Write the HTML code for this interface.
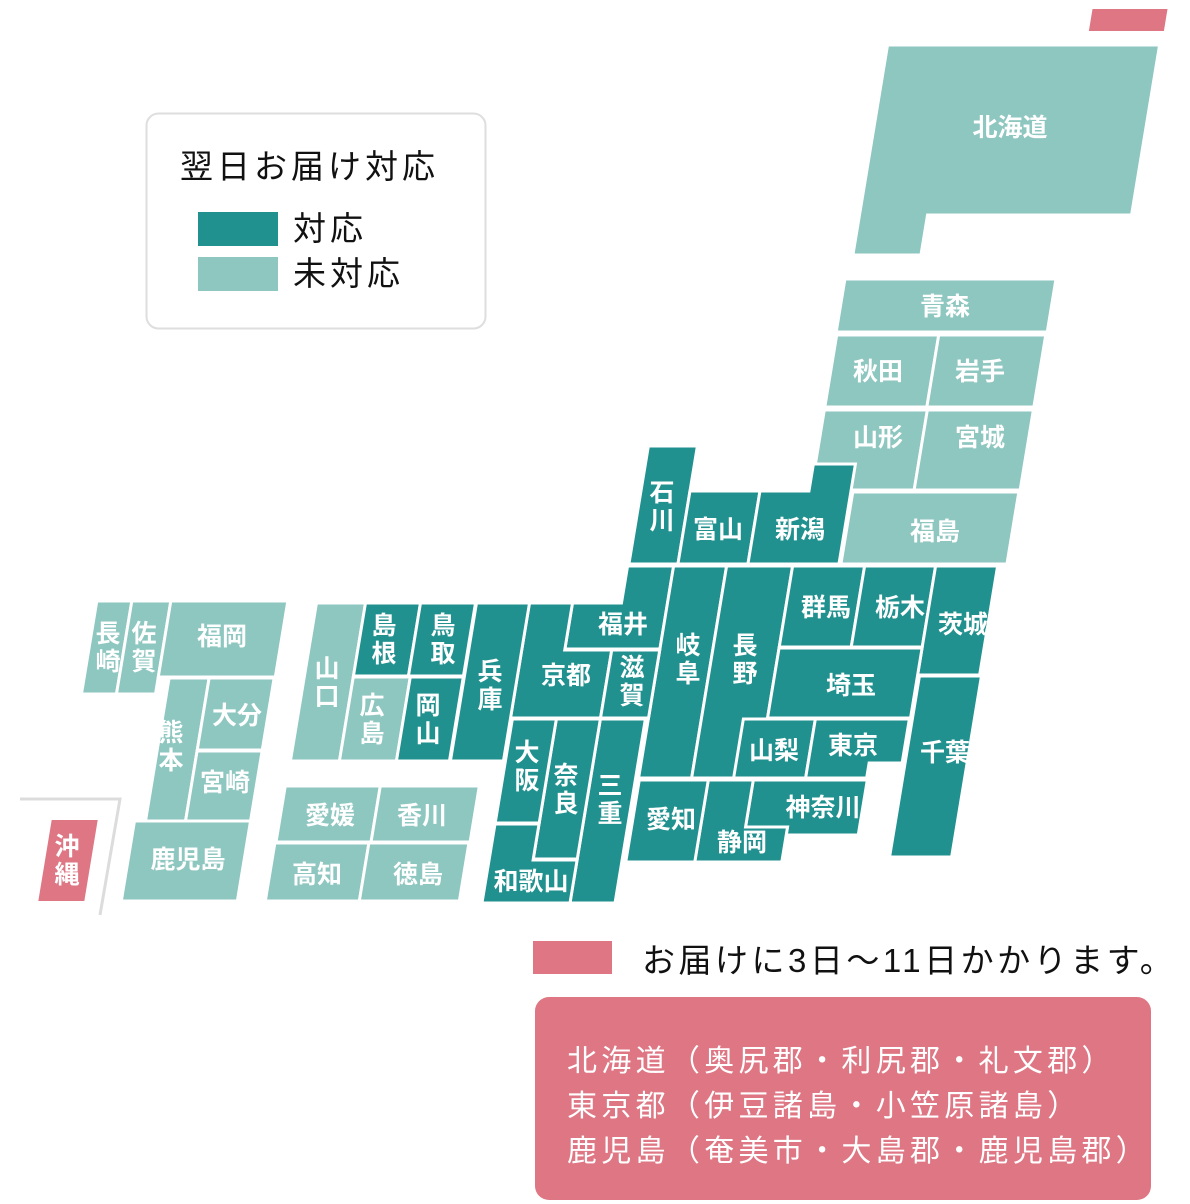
<!DOCTYPE html>
<html><head><meta charset="utf-8"><style>
html,body{margin:0;padding:0;background:#fff;}
svg{display:block;}
.lab{font-family:"Liberation Sans","Noto Sans CJK JP",sans-serif;font-weight:bold;font-size:25px;fill:#fff;text-anchor:middle;dominant-baseline:central;}
.blk{font-family:"Liberation Sans","Noto Sans CJK JP",sans-serif;fill:#111;}
.wh{font-family:"Liberation Sans","Noto Sans CJK JP",sans-serif;fill:#fff;font-size:30px;letter-spacing:4.3px;}
</style></head><body>
<svg width="1190" height="1204" viewBox="0 0 1190 1204" xmlns="http://www.w3.org/2000/svg">
<g transform="skewX(-9.37)" stroke="#fff" stroke-width="3">
<rect x="1094" y="9" width="75" height="22" fill="#de7683" stroke="none"/>
<path d="M895,45 H1167 V215 H963 V255 H895 Z" fill="#8ec6c0"/>
<rect x="891" y="279" width="211" height="53" fill="#8ec6c0"/>
<rect x="892" y="335" width="102" height="72" fill="#8ec6c0"/>
<rect x="994" y="335" width="107" height="72" fill="#8ec6c0"/>
<rect x="892" y="410" width="103" height="80" fill="#8ec6c0"/>
<rect x="995" y="410" width="106" height="80" fill="#8ec6c0"/>
<rect x="934" y="492" width="166" height="72" fill="#8ec6c0"/>
<rect x="722" y="446" width="49" height="118" fill="#21918f"/>
<rect x="771" y="491" width="70" height="73" fill="#21918f"/>
<path d="M841,491 H890 V464 H932 V564 H841 Z" fill="#21918f"/>
<path d="M721,566 H767 V649 H672 V603 H721 Z" fill="#21918f"/>
<rect x="767" y="566" width="53" height="212" fill="#21918f"/>
<rect x="820" y="566" width="66" height="212" fill="#21918f"/>
<rect x="886" y="566" width="72" height="81" fill="#21918f"/>
<rect x="958" y="566" width="71" height="81" fill="#21918f"/>
<rect x="1029" y="566" width="62" height="109" fill="#21918f"/>
<rect x="886" y="648" width="143" height="70" fill="#21918f"/>
<rect x="1031" y="676" width="62" height="181" fill="#21918f"/>
<rect x="862" y="719" width="72" height="59" fill="#21918f"/>
<path d="M934,719 H1028 V763 H995 V778 H934 Z" fill="#21918f"/>
<path d="M882,780 H996 V835 H924 V827 H882 Z" fill="#21918f"/>
<path d="M837,780 H882 V827 H924 V862 H837 Z" fill="#21918f"/>
<rect x="768" y="780" width="69" height="82" fill="#21918f"/>
<path d="M629,603 H672 V650 H719 V718 H629 Z" fill="#21918f"/>
<rect x="719" y="650" width="48" height="68" fill="#21918f"/>
<rect x="576" y="603" width="53" height="158" fill="#21918f"/>
<rect x="719" y="719" width="45" height="184" fill="#21918f"/>
<rect x="675" y="719" width="44" height="140" fill="#21918f"/>
<rect x="631" y="719" width="44" height="104" fill="#21918f"/>
<path d="M631,824 H675 V860 H719 V903 H631 Z" fill="#21918f"/>
<rect x="416" y="603" width="49" height="158" fill="#8ec6c0"/>
<rect x="465" y="603" width="55" height="73" fill="#21918f"/>
<rect x="520" y="603" width="55" height="73" fill="#21918f"/>
<rect x="465" y="677" width="57" height="84" fill="#8ec6c0"/>
<rect x="522" y="677" width="53" height="84" fill="#21918f"/>
<rect x="415" y="786" width="95" height="56" fill="#8ec6c0"/>
<rect x="510" y="786" width="99" height="56" fill="#8ec6c0"/>
<rect x="414" y="843" width="94" height="58" fill="#8ec6c0"/>
<rect x="508" y="843" width="100" height="58" fill="#8ec6c0"/>
<rect x="196" y="601" width="35" height="93" fill="#8ec6c0"/>
<rect x="231" y="601" width="39" height="93" fill="#8ec6c0"/>
<rect x="270" y="601" width="117" height="76" fill="#8ec6c0"/>
<rect x="281" y="678" width="40" height="143" fill="#8ec6c0"/>
<rect x="321" y="678" width="65" height="72" fill="#8ec6c0"/>
<rect x="321" y="751" width="65" height="70" fill="#8ec6c0"/>
<rect x="270" y="821" width="116" height="80" fill="#8ec6c0"/>
<rect x="187" y="820" width="46" height="81" fill="#de7683" stroke="none"/>
</g>
<polyline points="20,799 120,799 100,915" fill="none" stroke="#dcdcdc" stroke-width="3"/>

<text class="lab" x="1010" y="128">北海道</text>
<text class="lab" x="945" y="307">青森</text>
<text class="lab" x="878" y="372">秋田</text>
<text class="lab" x="980" y="372">岩手</text>
<text class="lab" x="878" y="438">山形</text>
<text class="lab" x="980" y="438">宮城</text>
<text class="lab" x="935" y="532">福島</text>
<text class="lab" x="662" y="493">石</text><text class="lab" x="662" y="521">川</text>
<text class="lab" x="718" y="530">富山</text>
<text class="lab" x="800" y="530">新潟</text>
<text class="lab" x="623" y="625">福井</text>
<text class="lab" x="688" y="646">岐</text><text class="lab" x="688" y="674">阜</text>
<text class="lab" x="745" y="646">長</text><text class="lab" x="745" y="674">野</text>
<text class="lab" x="826" y="608">群馬</text>
<text class="lab" x="900" y="608">栃木</text>
<text class="lab" x="963" y="625">茨城</text>
<text class="lab" x="851" y="686">埼玉</text>
<text class="lab" x="945" y="753">千葉</text>
<text class="lab" x="774" y="751">山梨</text>
<text class="lab" x="853" y="746">東京</text>
<text class="lab" x="823" y="808">神奈川</text>
<text class="lab" x="742" y="843">静岡</text>
<text class="lab" x="671" y="820">愛知</text>
<text class="lab" x="566" y="676">京都</text>
<text class="lab" x="632" y="668">滋</text><text class="lab" x="632" y="696">賀</text>
<text class="lab" x="490" y="672">兵</text><text class="lab" x="490" y="700">庫</text>
<text class="lab" x="610" y="786">三</text><text class="lab" x="610" y="814">重</text>
<text class="lab" x="566" y="776">奈</text><text class="lab" x="566" y="804">良</text>
<text class="lab" x="527" y="753">大</text><text class="lab" x="527" y="781">阪</text>
<text class="lab" x="531" y="882">和歌山</text>
<text class="lab" x="384" y="626">島</text><text class="lab" x="384" y="654">根</text>
<text class="lab" x="443" y="626">鳥</text><text class="lab" x="443" y="654">取</text>
<text class="lab" x="327" y="669">山</text><text class="lab" x="327" y="697">口</text>
<text class="lab" x="372" y="706">広</text><text class="lab" x="372" y="734">島</text>
<text class="lab" x="428" y="706">岡</text><text class="lab" x="428" y="734">山</text>
<text class="lab" x="330" y="816">愛媛</text>
<text class="lab" x="422" y="816">香川</text>
<text class="lab" x="317" y="875">高知</text>
<text class="lab" x="418" y="875">徳島</text>
<text class="lab" x="108" y="634">長</text><text class="lab" x="108" y="662">崎</text>
<text class="lab" x="144" y="634">佐</text><text class="lab" x="144" y="662">賀</text>
<text class="lab" x="222" y="637">福岡</text>
<text class="lab" x="171" y="733">熊</text><text class="lab" x="171" y="761">本</text>
<text class="lab" x="237" y="716">大分</text>
<text class="lab" x="225" y="783">宮崎</text>
<text class="lab" x="188" y="860">鹿児島</text>
<text class="lab" x="67" y="847">沖</text><text class="lab" x="67" y="875">縄</text>

<rect x="146.5" y="113.5" width="339" height="215" rx="12" fill="#fff" stroke="#dedede" stroke-width="2"/>
<text class="blk" x="180" y="178" font-size="33" letter-spacing="4">翌日お届け対応</text>
<rect x="198" y="212" width="80" height="34" fill="#21918f"/>
<rect x="198" y="257" width="80" height="34" fill="#8ec6c0"/>
<text class="blk" x="293" y="240" font-size="33" letter-spacing="4">対応</text>
<text class="blk" x="293" y="285" font-size="33" letter-spacing="4">未対応</text>

<rect x="533" y="941" width="79" height="33" fill="#de7683"/>
<text class="blk" x="642" y="972" font-size="33" letter-spacing="3.5">お届けに3日〜11日かかります。</text>
<rect x="535" y="997" width="616" height="203" rx="14" fill="#de7683"/>
<text class="wh" x="567" y="1071">北海道（奥尻郡・利尻郡・礼文郡）</text>
<text class="wh" x="567" y="1116">東京都（伊豆諸島・小笠原諸島）</text>
<text class="wh" x="567" y="1161">鹿児島（奄美市・大島郡・鹿児島郡）</text>
</svg>
</body></html>
